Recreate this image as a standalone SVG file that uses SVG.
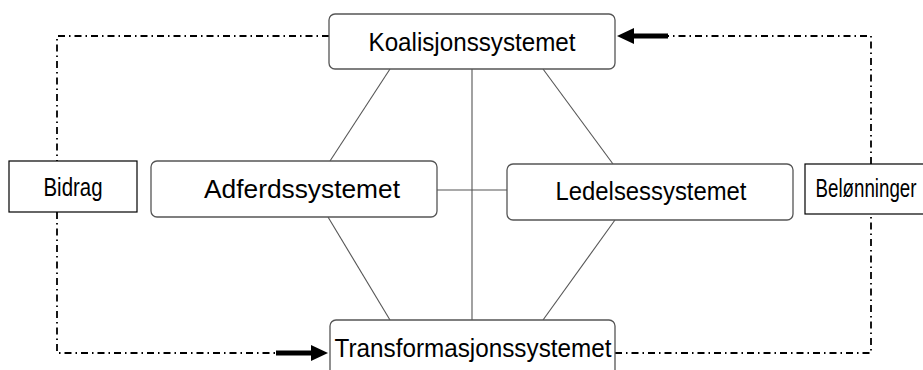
<svg xmlns="http://www.w3.org/2000/svg" width="923" height="370" viewBox="0 0 923 370">
  <style>
    .sys { fill: #fff; stroke: #555; stroke-width: 1.3; }
    .lbl { fill: #fff; stroke: #000; stroke-width: 1.2; }
    .t { font-family: "Liberation Sans", Arial, sans-serif; fill: #000; text-anchor: middle; dominant-baseline: central; font-size: 25px; }
    .link { stroke: #555; stroke-width: 1.1; fill: none; }
    .flow { stroke: #000; stroke-width: 1.8; fill: none; stroke-dasharray: 7 4 1.5 4; }
    .thick { stroke: #000; stroke-width: 5; fill: none; }
  </style>
  <rect width="923" height="370" fill="#fff"/>

  <g id="connectors">
    <!-- structural links between the subsystems -->
    <line class="link" x1="390" y1="69" x2="330" y2="161"/>
    <line class="link" x1="543" y1="69" x2="613" y2="164"/>
    <line class="link" x1="472" y1="69" x2="472" y2="320"/>
    <line class="link" x1="437" y1="190" x2="507" y2="190"/>
    <line class="link" x1="328" y1="217" x2="390" y2="320"/>
    <line class="link" x1="615" y1="220" x2="543" y2="320"/>
    <!-- contribution / reward loop -->
    <polyline class="flow" points="329,36 57,36 57,161"/>
    <polyline class="flow" points="57,212 57,353 276,353"/>
    <polyline class="flow" points="615,353 871,353 871,214"/>
    <polyline class="flow" points="871,164 871,36 668,36"/>
    <!-- arrows -->
    <line class="thick" x1="668" y1="36" x2="630" y2="36"/>
    <polygon points="617,36 634,28 634,44" fill="#000"/>
    <line class="thick" x1="276" y1="353" x2="314" y2="353"/>
    <polygon points="328,353 311,345 311,361" fill="#000"/>
  </g>

  <g id="koalisjonssystemet">
    <rect class="sys" x="329" y="14" width="286" height="55" rx="6"/>
    <text class="t" x="472" y="42" textLength="207" lengthAdjust="spacingAndGlyphs">Koalisjonssystemet</text>
  </g>
  <g id="adferdssystemet">
    <rect class="sys" x="151" y="161" width="286" height="56" rx="6"/>
    <text class="t" x="302" y="189" textLength="196" lengthAdjust="spacingAndGlyphs">Adferdssystemet</text>
  </g>
  <g id="ledelsessystemet">
    <rect class="sys" x="507" y="164" width="286" height="56" rx="6"/>
    <text class="t" x="651" y="191" textLength="191" lengthAdjust="spacingAndGlyphs">Ledelsessystemet</text>
  </g>
  <g id="transformasjonssystemet">
    <rect class="sys" x="330" y="320" width="285" height="70" rx="6"/>
    <text class="t" x="473" y="348" textLength="277" lengthAdjust="spacingAndGlyphs">Transformasjonssystemet</text>
  </g>
  <g id="bidrag">
    <rect class="lbl" x="9" y="161" width="128" height="51"/>
    <text class="t" x="73" y="187" textLength="59" lengthAdjust="spacingAndGlyphs">Bidrag</text>
  </g>
  <g id="belonninger">
    <rect class="lbl" x="805" y="164" width="130" height="50"/>
    <text class="t" x="866" y="188" textLength="101" lengthAdjust="spacingAndGlyphs">Belønninger</text>
  </g>
</svg>
